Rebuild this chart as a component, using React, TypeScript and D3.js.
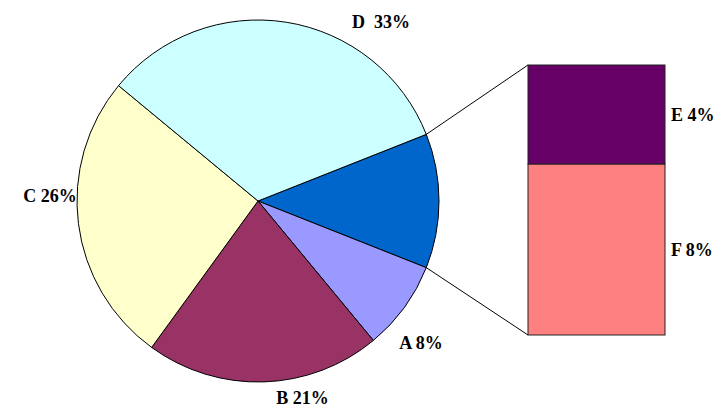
import { useMemo } from "react";
import * as d3 from "d3";

// pie slices (the "Other" slice is split out into the bar on the right)
const pieNames = ["Other", "A", "B", "C", "D"];
const pieValues = [12, 8, 21, 26, 33];
const pieColors = ["#0066CC", "#9999FF", "#993366", "#FFFFCC", "#CCFFFF"];

// breakdown of "Other", bottom to top
const barNames = ["F", "E"];
const barValues = [7.6, 4.4];
const barColors = ["#FF8080", "#660066"];

// label placement around the pie: angle (deg, clockwise from 3 o'clock) and distance from centre
const pieLabelLayout: Record<string, { angle: number; dist: number; text: string }> = {
  A: { angle: 41, dist: 216, text: "A 8%" },
  B: { angle: 77.3, dist: 202, text: "B 21%" },
  C: { angle: 181.4, dist: 208, text: "C 26%" },
  D: { angle: -55.5, dist: 217, text: "D\u00a0\u00a033%" },
};
const barLabels: Record<string, string> = { E: "E 4%", F: "F 8%" };

const W = 715;
const H = 409;
const cx = 258;
const cy = 201;
const R = 181;
const bar = { x0: 528, x1: 665, top: 65, bottom: 335 };
const font = "'Liberation Serif', 'Times New Roman', serif";

export default function App() {
  const total = d3.sum(pieValues);
  const otherSpan = (pieValues[0] / total) * 2 * Math.PI;
  const start = Math.PI / 2 - otherSpan / 2;

  const arcs = useMemo(() => {
    const pie = d3
      .pie<number>()
      .sort(null)
      .value((d) => d)
      .startAngle(start)
      .endAngle(start + 2 * Math.PI);
    return pie(pieValues);
  }, [start]);

  const arcGen = d3.arc<d3.PieArcDatum<number>>().innerRadius(0).outerRadius(R);

  const y = d3
    .scaleLinear()
    .domain([0, d3.sum(barValues)])
    .range([bar.bottom, bar.top]);

  let acc = 0;
  const segs = barValues.map((v, i) => {
    const s = { name: barNames[i], y0: y(acc), y1: y(acc + v), color: barColors[i] };
    acc += v;
    return s;
  });

  const other = arcs[0];
  // d3 angles start at 12 o'clock
  const pt = (a: number) => [cx + R * Math.sin(a), cy - R * Math.cos(a)];
  const [ax, ay] = pt(other.startAngle);
  const [bx, by] = pt(other.endAngle);

  return (
    <svg
      width={W}
      height={H}
      style={{ position: "absolute", left: 0, top: 0, background: "#fff" }}
      fontFamily={font}
      fontWeight="bold"
      fontSize={18}
    >
      <g transform={`translate(${cx},${cy})`}>
        {arcs.map((a, i) => (
          <path
            key={pieNames[i]}
            d={arcGen(a) || ""}
            fill={pieColors[i]}
            stroke="#000"
            strokeWidth={1}
          />
        ))}
      </g>
      <line x1={ax} y1={ay} x2={bar.x0} y2={bar.top} stroke="#000" strokeWidth={1} />
      <line x1={bx} y1={by} x2={bar.x0} y2={bar.bottom} stroke="#000" strokeWidth={1} />
      {segs.map((s) => (
        <g key={s.name}>
          <rect
            x={bar.x0}
            y={s.y1}
            width={bar.x1 - bar.x0}
            height={s.y0 - s.y1}
            fill={s.color}
            stroke="#222"
            strokeWidth={1}
          />
          <text x={bar.x1 + 6} y={(s.y0 + s.y1) / 2} dy="0.35em" textAnchor="start">
            {barLabels[s.name]}
          </text>
        </g>
      ))}
      {pieNames.slice(1).map((n) => {
        const l = pieLabelLayout[n];
        const t = (l.angle * Math.PI) / 180;
        return (
          <text
            key={n}
            x={cx + l.dist * Math.cos(t)}
            y={cy + l.dist * Math.sin(t)}
            dy="0.35em"
            textAnchor="middle"
          >
            {l.text}
          </text>
        );
      })}
    </svg>
  );
}
